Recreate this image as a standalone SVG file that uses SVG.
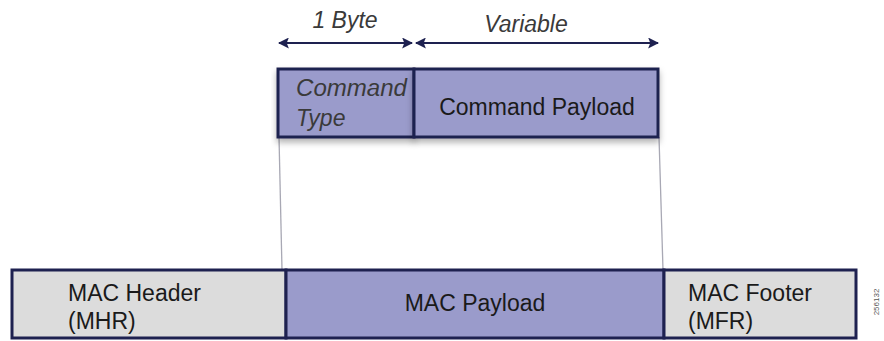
<svg xmlns="http://www.w3.org/2000/svg" width="884" height="341" viewBox="0 0 884 341">
<defs>
<style>
.box{stroke:#1e2150;stroke-width:3}
.purple{fill:#9a9bcb}
.grey{fill:#dcdcdc}
.t{font-family:"Liberation Sans",Arial,sans-serif;font-size:23px;fill:#1a1a1a}
.i{font-style:italic;fill:#3a3a3a}
.arr{stroke:#1e2150;stroke-width:2.2;fill:none}
.guide{stroke:#a8a8b4;stroke-width:1.3;fill:none}
</style>
<marker id="ah" viewBox="0 0 10 10" refX="9" refY="5" markerWidth="11" markerHeight="11" orient="auto-start-reverse" markerUnits="userSpaceOnUse">
<path d="M0,0 L10,5 L0,10 L2,5 z" fill="#1e2150"/>
</marker>
<filter id="sh" x="-5%" y="-20%" width="110%" height="150%">
<feDropShadow dx="0" dy="4" stdDeviation="3" flood-color="#000" flood-opacity="0.3"/>
</filter>
</defs>
<g id="connectors">
<line class="guide" x1="279" y1="137" x2="282" y2="270"/>
<line class="guide" x1="659" y1="137" x2="663" y2="270"/>
<line class="arr" x1="279" y1="43" x2="412" y2="43" marker-start="url(#ah)" marker-end="url(#ah)"/>
<line class="arr" x1="416" y1="43" x2="658" y2="43" marker-start="url(#ah)" marker-end="url(#ah)"/>
</g>
<g id="label-1byte"><text class="t i" x="345" y="28" text-anchor="middle">1 Byte</text></g>
<g id="label-variable"><text class="t i" x="526" y="32" text-anchor="middle">Variable</text></g>
<g id="command-type">
<rect class="box purple" x="278" y="69" width="136" height="68" filter="url(#sh)"/>
<text class="t i" x="296" y="96" textLength="111" lengthAdjust="spacingAndGlyphs">Command</text>
<text class="t i" x="296" y="126">Type</text>
</g>
<g id="command-payload">
<rect class="box purple" x="414" y="69" width="244" height="68" filter="url(#sh)"/>
<text class="t" x="537" y="115" text-anchor="middle">Command Payload</text>
</g>
<g id="mac-header">
<rect class="box grey" x="12" y="270" width="274" height="68"/>
<text class="t" x="68" y="301">MAC Header</text>
<text class="t" x="68" y="329">(MHR)</text>
</g>
<g id="mac-payload">
<rect class="box purple" x="286" y="270" width="378" height="68"/>
<text class="t" x="475" y="311" text-anchor="middle">MAC Payload</text>
</g>
<g id="mac-footer">
<rect class="box grey" x="664" y="270" width="192" height="68"/>
<text class="t" x="688" y="301">MAC Footer</text>
<text class="t" x="688" y="329">(MFR)</text>
</g>
<g id="figure-id"><text x="879" y="302" transform="rotate(-90 879 302)" text-anchor="middle" style="font-family:'Liberation Sans',Arial,sans-serif;font-size:8px;fill:#555">256132</text></g>
</svg>
